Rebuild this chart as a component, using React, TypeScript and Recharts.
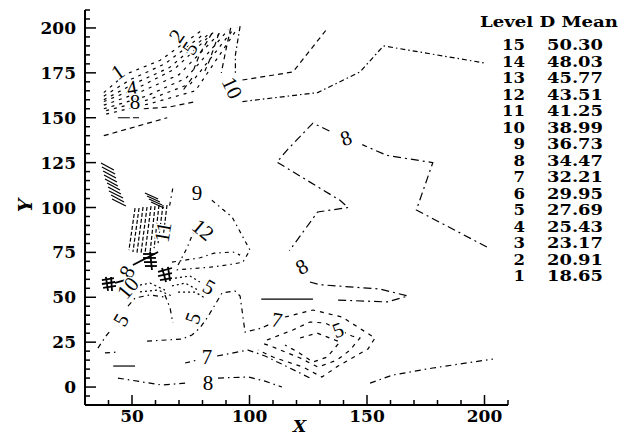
import React from 'react';
import { ComposedChart, Line, Scatter, XAxis, YAxis, Customized } from 'recharts';

type P = [number, number];

// ---- axes ----
const xTicks = [30, 40, 50, 60, 70, 80, 90, 100, 110, 120, 130, 140, 150, 160, 170, 180, 190, 200, 210];
const xTickLabels = [50, 100, 150, 200];
const yTicks = [-10, -5, 0, 5, 10, 15, 20, 25, 30, 35, 40, 45, 50, 55, 60, 65, 70, 75, 80, 85, 90, 95, 100,
  105, 110, 115, 120, 125, 130, 135, 140, 145, 150, 155, 160, 165, 170, 175, 180, 185, 190, 195, 200, 205, 210];
const yTickLabels = [0, 25, 50, 75, 100, 125, 150, 175, 200];

// ---- legend ----
const levels = [15, 14, 13, 12, 11, 10, 9, 8, 7, 6, 5, 4, 3, 2, 1];
const means = [50.30, 48.03, 45.77, 43.51, 41.25, 38.99, 36.73, 34.47, 32.21, 29.95, 27.69, 25.43, 23.17, 20.91, 18.65];

// ---- contour polylines (x, y) ----
const fanLines: P[][] = [
  [[38, 164], [47, 174], [62, 182], [79, 198]],
  [[38, 162], [49, 171], [64, 180], [81, 197]],
  [[38, 160], [51, 169], [66, 178], [83, 197]],
  [[38, 159], [53, 167], [68, 177], [85, 198]],
  [[38, 157], [53, 164], [70, 174], [88, 198]],
  [[38, 155], [56, 162], [73, 172], [91, 199]],
  [[39, 154], [57, 160], [75, 169], [93, 199]],
  [[39, 152], [58, 158], [77, 165], [95, 200]],
];

const topLines: P[][] = [
  [[38, 140], [65, 150]],
  [[55, 155], [66, 156], [77, 159]],
  [[92, 200], [90, 188], [88, 175]],
  [[87, 197], [83, 182], [81, 176]],
  [[84, 197], [79, 186], [76, 176]],
  [[75.5, 172], [71, 164]],
  [[97, 171], [118.5, 175.5], [133, 199.5]],
];
const topSolid: P[][] = [
  [[44, 150], [53, 150]],
];

const contour10: P[][] = [
  [[96, 201], [94, 185], [94, 174]],
  [[97, 159], [129, 164], [147, 175.5], [157, 190], [200, 180.5]],
];

const contour8Right: P[][] = [
  [[201, 78], [171, 98.6], [178, 125], [158.5, 129], [148, 135]],
  [[134, 142.6], [127, 147], [116, 132], [111.7, 125.3], [138.5, 104], [142, 100], [129, 97.5], [117, 76]],
  [[125.7, 58.5], [130, 57], [155.5, 54.6], [167.4, 50.7], [158.5, 47.4], [137, 48.5]],
];
const solidMid: P[][] = [
  [[105, 49], [127, 49]],
  [[42, 11.7], [51.3, 11.7]],
];

const midLines: P[][] = [
  [[66, 101], [67.4, 111]],
  [[84, 104], [92.6, 94.7], [100.2, 76.3], [97.2, 69.6], [93, 68.5], [84.5, 66.9], [68.3, 65.2]],
  [[69.6, 68], [73.4, 77.4], [76, 85.8]],
  [[67, 69.6], [79, 72], [85, 74.6], [93, 75.2], [96, 73.5]],
];

const hatchLeft: P[][] = [
  [[36.8, 124.8], [42.3, 120.9]],
  [[37.2, 122.6], [42.8, 118.7]],
  [[37.7, 120.3], [43.2, 116.4]],
  [[38.1, 118.1], [43.6, 114.2]],
  [[38.5, 115.9], [44.0, 112.0]],
  [[39.4, 113.6], [44.9, 109.7]],
  [[39.8, 111.4], [45.3, 107.5]],
  [[40.2, 109.2], [46.2, 105.3]],
  [[41.1, 107.0], [46.6, 103.1]],
  [[41.5, 104.7], [47.4, 100.8]],
  [[55.5, 108.1], [61.1, 104.7]],
  [[56.4, 106.4], [61.9, 103.1]],
  [[57.2, 104.7], [62.8, 101.4]],
  [[58.1, 103.1], [63.6, 99.7]],
];

const gridLines: P[][] = [
  [[51.3, 99.7], [48.7, 76.3]],
  [[53, 99.7], [50.4, 75.2]],
  [[54.7, 100.3], [52.1, 74.6]],
  [[56.4, 100.3], [53.8, 74.1]],
  [[58.1, 100.8], [55.5, 74.1]],
  [[59.8, 100.8], [57.7, 75.2]],
  [[61.5, 101.4], [59.4, 77.4]],
  [[63.2, 101.4], [61.1, 80.2]],
  [[64.9, 101.4], [63.2, 83]],
];

const blobs: P[][] = [
  [[50.4, 68.0], [61.1, 75.2]],
  [[54.7, 74.1], [59.8, 74.1]],
  [[54.7, 71.9], [60.2, 71.9]],
  [[55.1, 69.6], [60.6, 69.6]],
  [[55.5, 67.4], [60.6, 67.4]],
  [[57.7, 75.2], [58.5, 65.2]],
  [[61.1, 64.1], [67.0, 66.3]],
  [[61.1, 61.8], [67.0, 63.5]],
  [[61.9, 59.6], [67.0, 60.7]],
  [[62.8, 66.3], [64.5, 58.5]],
  [[65.3, 66.9], [66.2, 59.1]],
  [[37.2, 59.6], [42.3, 60.7]],
  [[37.2, 57.4], [42.8, 58.5]],
  [[37.7, 55.2], [43.2, 56.3]],
  [[38.9, 61.3], [39.8, 53.5]],
  [[41.1, 61.3], [41.5, 53.5]],
  [[42.8, 58.0], [47.0, 59.6]],
];

const dottedLines: P[][] = [
  [[53.4, 56.8], [57.7, 57.9], [64.0, 54.0]],
  [[53.4, 53.0], [61.1, 54.0], [67.0, 50.7]],
  [[68.3, 60.7], [74.7, 61.8], [78.9, 58.5]],
  [[67.0, 56.3], [72.6, 57.9], [78.1, 54.0]],
  [[69.6, 52.9], [76.8, 52.9], [81.1, 49.6]],
];

const lowLines: P[][] = [
  [[35.5, 21.7], [38.9, 28.4], [41.1, 31.8]],
  [[48.3, 45.1], [51.3, 49.6], [57.7, 51.3], [64, 50.1]],
  [[64, 51.3], [66.2, 44], [67.4, 35.7]],
  [[56.4, 25.6], [71.3, 26.7], [75.5, 29], [78.9, 32.9], [81.9, 38.4], [84.5, 44], [88.3, 52.4], [93.8, 53.5], [96, 50.7], [98.1, 30.6], [105.3, 32.9], [108.7, 35.1]],
  [[72.6, 13.4], [77.7, 15]],
  [[38.5, 19], [44, 19.5]],
];

const diamondLines: P[][] = [
  [[115.1, 39], [127, 42.9], [139.4, 39], [153.4, 27.3], [150.4, 21.2], [137.7, 11.7], [130.8, 5.6], [122.8, 11.1], [110, 16.7], [103.6, 20.6]],
  [[107.4, 26.2], [118.5, 31.8], [125.7, 36.2], [132.1, 35.7], [143.6, 28.4], [147, 27.3], [142.8, 20.6], [137.2, 15], [129.1, 11.1], [121.5, 16.2], [110, 22.3], [105.3, 24.5]],
  [[121.5, 27.3], [128.7, 30.1], [138.5, 25.1], [133, 16.7], [127, 13.9], [120.6, 19.5], [115.1, 23.4]],
];

const bottomLines: P[][] = [
  [[86.2, 17.3], [99.4, 20.6], [106.6, 17.3], [117.2, 10.6], [125.7, 5]],
  [[44, 5], [62.8, 1.1], [72.6, 2.2]],
  [[86.6, 5], [99.4, 5.6], [106.6, 3.3], [113.8, 0]],
  [[151.3, 2.2], [161, 6.7], [178, 10.6], [203.6, 15.6]],
];

// ---- contour labels ----
const labels = [
  { x: 44, y: 175.5, t: '1', a: -35 },
  { x: 50, y: 166.6, t: '4', a: -10 },
  { x: 51.3, y: 158.8, t: '8', a: 0 },
  { x: 69.1, y: 195.5, t: '2', a: -55 },
  { x: 74.7, y: 188.8, t: '5', a: -55 },
  { x: 92.6, y: 166.6, t: '10', a: 65 },
  { x: 141.1, y: 138.7, t: '8', a: -20 },
  { x: 77.7, y: 108.1, t: '9', a: 0 },
  { x: 80.2, y: 87.5, t: '12', a: 40 },
  { x: 63.2, y: 86.3, t: '11', a: -80 },
  { x: 122.3, y: 66.9, t: '8', a: -30 },
  { x: 47.9, y: 64.1, t: '8', a: -60 },
  { x: 48.3, y: 55.2, t: '10', a: -50 },
  { x: 82.8, y: 55.7, t: '5', a: 30 },
  { x: 45.3, y: 37.3, t: '5', a: -60 },
  { x: 76, y: 38.4, t: '5', a: -70 },
  { x: 111.7, y: 37.3, t: '7', a: 10 },
  { x: 137.7, y: 31.7, t: '5', a: -20 },
  { x: 81.9, y: 16.7, t: '7', a: 0 },
  { x: 82.3, y: 2.2, t: '8', a: 0 },
];

const toPts = (l: P[]) => l.map(([x, y]) => ({ x, y }));

const FONT = '"DejaVu Serif", "Liberation Serif", serif';

const XTick = (props: any) => {
  const { x, y, payload } = props;
  const v = payload.value;
  const major = xTickLabels.includes(v);
  return (
    <g>
      <line x1={x} y1={y} x2={x} y2={y - (major ? 10 : 5)} stroke="#000" strokeWidth={1.5} />
      {major && (
        <text x={x} y={y + 17} textAnchor="middle" fontFamily={FONT} fontWeight="bold" fontSize={17} fill="#000">
          {v}
        </text>
      )}
    </g>
  );
};

const YTick = (props: any) => {
  const { x, y, payload } = props;
  const v = payload.value;
  const major = yTickLabels.includes(v);
  return (
    <g>
      <line x1={x} y1={y} x2={x + (major ? 11 : 5)} y2={y} stroke="#000" strokeWidth={1.5} />
      {major && (
        <text x={x - 9} y={y + 6} textAnchor="end" fontFamily={FONT} fontWeight="bold" fontSize={17} fill="#000">
          {v}
        </text>
      )}
    </g>
  );
};

const LabelShape = (props: any) => {
  const { cx, cy, payload } = props;
  return (
    <text
      x={cx}
      y={cy}
      textAnchor="middle"
      dominantBaseline="central"
      transform={`rotate(${payload.a}, ${cx}, ${cy})`}
      fontFamily='"Liberation Serif", serif'
      fontSize={21}
      fill="#000"
      stroke="#fff"
      strokeWidth={3}
      paintOrder="stroke"
    >
      {payload.t}
    </text>
  );
};

const LegendBlock = () => (
  <g fontFamily={FONT} fontWeight="bold" fill="#000">
    <text x={480} y={27} fontSize={15} textLength={138} lengthAdjust="spacingAndGlyphs">
      Level D Mean
    </text>
    {levels.map((lv, i) => (
      <g key={lv}>
        <text
          x={525}
          y={50 + i * 16.5}
          fontSize={14}
          textAnchor="end"
          textLength={lv >= 10 ? 23 : 11.5}
          lengthAdjust="spacingAndGlyphs"
        >
          {lv}
        </text>
        <text x={547} y={50 + i * 16.5} fontSize={14} textLength={56} lengthAdjust="spacingAndGlyphs">
          {means[i].toFixed(2)}
        </text>
      </g>
    ))}
  </g>
);

const renderGroup = (lines: P[][], prefix: string, dash: string | undefined, width = 1.2) =>
  lines.map((l, i) => (
    <Line
      key={prefix + i}
      data={toPts(l)}
      dataKey="y"
      type="linear"
      stroke="#000"
      strokeWidth={width}
      strokeDasharray={dash}
      dot={false}
      activeDot={false}
      isAnimationActive={false}
      legendType="none"
    />
  ));

export default function App() {
  return (
    <div style={{ position: 'absolute', left: 0, top: 0, width: 619, height: 437, background: '#fff' }}>
      <ComposedChart width={619} height={437} margin={{ top: 10, right: 111, bottom: 0, left: 0 }}>
        <XAxis
          type="number"
          dataKey="x"
          domain={[30, 210]}
          ticks={xTicks}
          interval={0}
          allowDataOverflow
          height={32}
          tickSize={0}
          tickMargin={0}
          tickLine={false}
          axisLine={{ stroke: '#000', strokeWidth: 2 }}
          tick={<XTick />}
          label={{
            content: (p: any) => {
              const vb = p.viewBox || { x: 85, y: 405, width: 423 };
              return (
                <text x={vb.x + vb.width / 2 + 3} y={vb.y + 27} textAnchor="middle" fontFamily={FONT} fontWeight="bold" fontStyle="italic" fontSize={17} fill="#000">
                  X
                </text>
              );
            },
          }}
        />
        <YAxis
          type="number"
          dataKey="y"
          domain={[-10, 210]}
          ticks={yTicks}
          interval={0}
          allowDataOverflow
          width={85}
          tickSize={0}
          tickMargin={0}
          tickLine={false}
          axisLine={{ stroke: '#000', strokeWidth: 2 }}
          tick={<YTick />}
          label={{
            content: (p: any) => {
              const vb = p.viewBox || { x: 0, y: 10, height: 395 };
              const cx = vb.x + 25;
              const cy = vb.y + vb.height / 2 - 2;
              return (
                <text x={cx} y={cy} textAnchor="middle" dominantBaseline="central" transform={`rotate(-90, ${cx}, ${cy})`} fontFamily={FONT} fontWeight="bold" fontStyle="italic" fontSize={19} fill="#000">
                  Y
                </text>
              );
            },
          }}
        />
        {renderGroup(fanLines, 'fan', '3 5')}
        {renderGroup(topLines, 'top', '5 4')}
        {renderGroup(topSolid, 'tops', '12 3')}
        {renderGroup(contour10, 'c10', '5 3 1.5 3')}
        {renderGroup(contour8Right, 'c8', '8 4 2 4')}
        {renderGroup(solidMid, 'sm', undefined)}
        {renderGroup(midLines, 'mid', '4 4 1.5 4')}
        {renderGroup(hatchLeft, 'hl', undefined)}
        {renderGroup(gridLines, 'gl', '4 2')}
        {renderGroup(blobs, 'bl', undefined, 1.8)}
        {renderGroup(dottedLines, 'dl', '2 3')}
        {renderGroup(lowLines, 'low', '5 4 1.5 4')}
        {renderGroup(diamondLines, 'dia', '4 5')}
        {renderGroup(bottomLines, 'bot', '6 4 1.5 4')}
        <Scatter data={labels} dataKey="y" isAnimationActive={false} shape={<LabelShape />} legendType="none" />
        <Customized component={LegendBlock} />
      </ComposedChart>
    </div>
  );
}
